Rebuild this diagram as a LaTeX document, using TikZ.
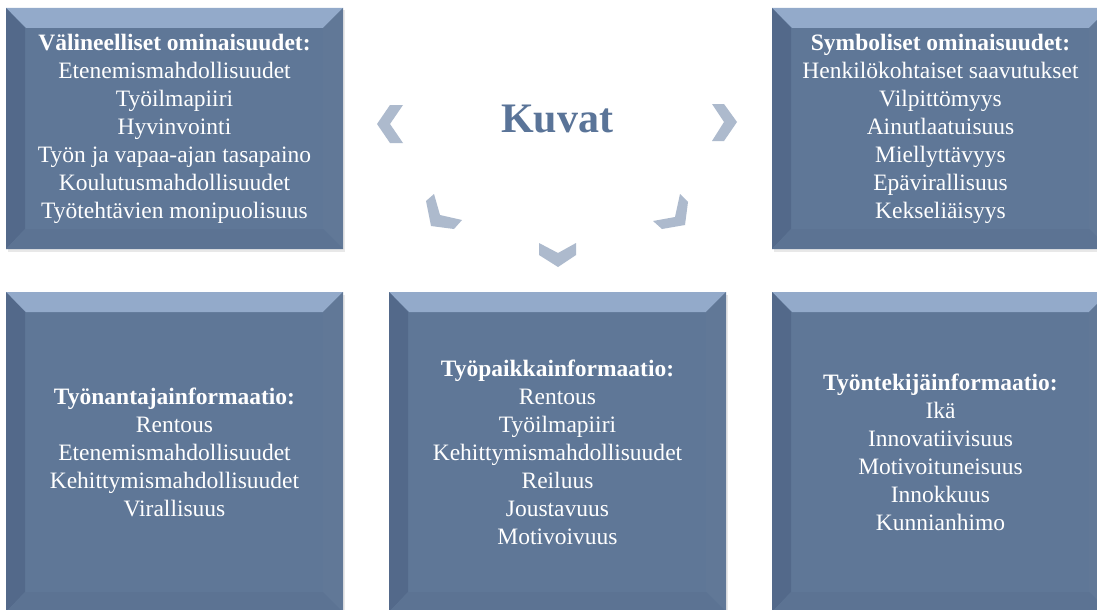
\documentclass[tikz,border=0pt]{standalone}
\usepackage{fontspec}
\setmainfont{LiberationSerif}[
  Extension=.ttf,
  UprightFont=*-Regular,
  BoldFont=*-Bold,
  ItalicFont=*-Italic,
  BoldItalicFont=*-BoldItalic]
\usetikzlibrary{shadows}

\definecolor{face}{HTML}{5F7797}
\definecolor{bevtop}{HTML}{93AACA}
\definecolor{bevleft}{HTML}{53698A}
\definecolor{bevright}{HTML}{617897}
\definecolor{bevbottom}{HTML}{5C7393}
\definecolor{chev}{HTML}{ADBACD}
\definecolor{titleblue}{HTML}{5A7498}

\tikzset{
  bevelbox/.style={
    rectangle, fill=face, inner sep=0pt, minimum width=337pt,
    align=center, text=white,
    font=\fontsize{23.5}{28}\selectfont,
    drop shadow={opacity=.18, shadow xshift=1.5pt, shadow yshift=-2.5pt},
    path picture={
      \def\bb{path picture bounding box}
      % lit top edge
      \fill[bevtop] (\bb.north west) -- (\bb.north east)
        -- ([xshift=-20pt,yshift=-20pt]\bb.north east)
        -- ([xshift=20pt,yshift=-20pt]\bb.north west) -- cycle;
      % shaded left edge
      \fill[bevleft] (\bb.north west) -- ([xshift=19pt,yshift=-20pt]\bb.north west)
        -- ([xshift=19pt,yshift=20pt]\bb.south west) -- (\bb.south west) -- cycle;
      % right edge
      \fill[bevright] (\bb.north east) -- ([xshift=-20pt,yshift=-20pt]\bb.north east)
        -- ([xshift=-20pt,yshift=20pt]\bb.south east) -- (\bb.south east) -- cycle;
      % bottom edge
      \fill[bevbottom] (\bb.south west) -- ([xshift=19pt,yshift=20pt]\bb.south west)
        -- ([xshift=-20pt,yshift=20pt]\bb.south east) -- (\bb.south east) -- cycle;
    }},
  topbox/.style={bevelbox, minimum height=241pt},
  lowbox/.style={bevelbox, minimum height=320pt},
  chevron/.style={fill=chev, draw=none},
  heading/.style={text=titleblue, font=\fontsize{42}{48}\selectfont\bfseries, inner sep=0pt}
}

\begin{document}
\begin{tikzpicture}[x=1pt, y=-1pt]
  \path[use as bounding box] (0,0) rectangle (1097,610);
  \clip (0,0) rectangle (1097,610);
  \fill[white] (0,0) rectangle (1097,610);

  % upper row
  \node[topbox] (valine) at (174.5,128.5) {\textbf{Välineelliset ominaisuudet:}\\
    Etenemismahdollisuudet\\ Työilmapiiri\\ Hyvinvointi\\
    Työn ja vapaa-ajan tasapaino\\ Koulutusmahdollisuudet\\ Työtehtävien monipuolisuus};
  \node[topbox] (symbol) at (940.5,128.5) {\textbf{Symboliset ominaisuudet:}\\
    Henkilökohtaiset saavutukset\\ Vilpittömyys\\ Ainutlaatuisuus\\
    Miellyttävyys\\ Epävirallisuus\\ Kekseliäisyys};

  % lower row
  \node[lowbox] (antaja) at (174.5,452) {\textbf{Työnantajainformaatio:}\\
    Rentous\\ Etenemismahdollisuudet\\ Kehittymismahdollisuudet\\ Virallisuus};
  \node[lowbox] (paikka) at (557.5,452) {\textbf{Työpaikkainformaatio:}\\
    Rentous\\ Työilmapiiri\\ Kehittymismahdollisuudet\\ Reiluus\\ Joustavuus\\ Motivoivuus};
  \node[lowbox] (tekija) at (940.5,452) {\textbf{Työntekijäinformaatio:}\\
    Ikä\\ Innovatiivisuus\\ Motivoituneisuus\\ Innokkuus\\ Kunnianhimo};

  % central heading
  \node[heading, anchor=base] (kuvat) at (557,132) {Kuvat};

  % chevrons pointing from the heading to each box
  \fill[chevron] (390,105) -- (403,105) -- (390,124) -- (403,143) -- (390,143) -- (377,124) -- cycle;
  \fill[chevron] (712,104) -- (724,104) -- (737,122) -- (724,141) -- (712,141) -- (724,122) -- cycle;
  \fill[chevron] (426,201) -- (434,194) -- (440,215) -- (462,220) -- (454,229) -- (431,226) -- cycle;
  \fill[chevron] (680,194) -- (688,202) -- (685,225) -- (662,229) -- (653,221) -- (675,217) -- cycle;
  \fill[chevron] (539,243) -- (558,253) -- (576,243) -- (576,255) -- (558,267) -- (539,255) -- cycle;
\end{tikzpicture}
\end{document}
